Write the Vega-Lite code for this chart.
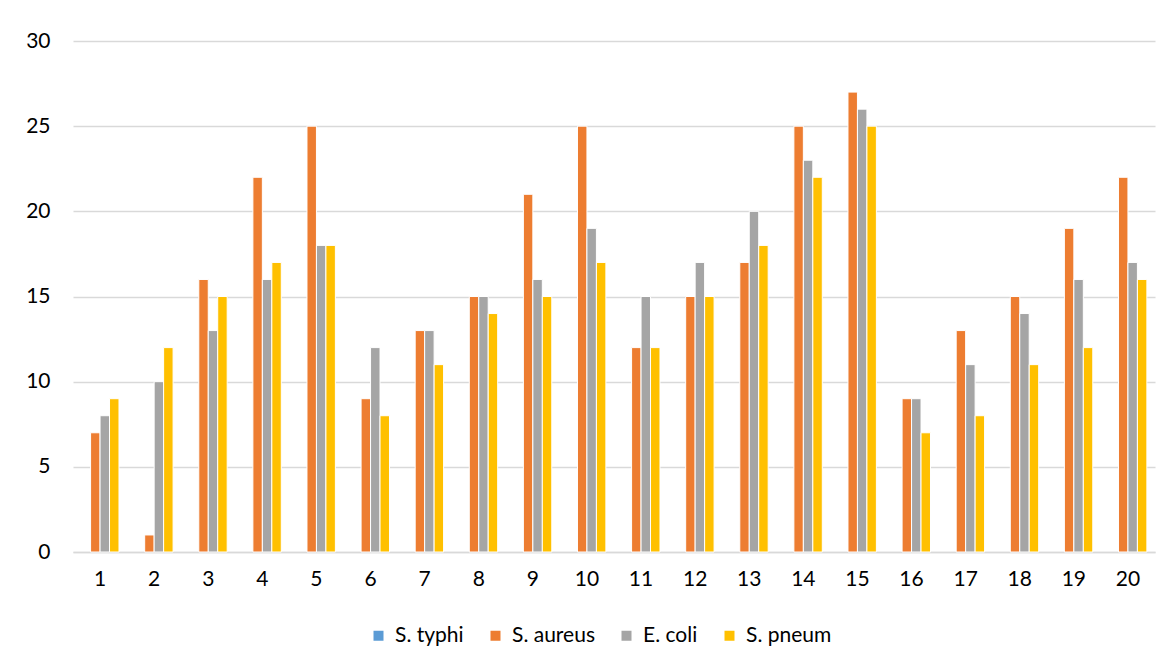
{
  "$schema": "https://vega.github.io/schema/vega-lite/v6.json",
  "autosize": "none",
  "width": 1082,
  "height": 511,
  "padding": {"left": 73, "top": 41, "right": 16, "bottom": 115},
  "background": "white",
  "config": {"view": {"stroke": null}, "font": "Lato"},
  "data": {"values": [
    {"c":"1","s":"S. typhi","v":0},{"c":"1","s":"S. aureus","v":7},{"c":"1","s":"E. coli","v":8},{"c":"1","s":"S. pneum","v":9},
    {"c":"2","s":"S. typhi","v":0},{"c":"2","s":"S. aureus","v":1},{"c":"2","s":"E. coli","v":10},{"c":"2","s":"S. pneum","v":12},
    {"c":"3","s":"S. typhi","v":0},{"c":"3","s":"S. aureus","v":16},{"c":"3","s":"E. coli","v":13},{"c":"3","s":"S. pneum","v":15},
    {"c":"4","s":"S. typhi","v":0},{"c":"4","s":"S. aureus","v":22},{"c":"4","s":"E. coli","v":16},{"c":"4","s":"S. pneum","v":17},
    {"c":"5","s":"S. typhi","v":0},{"c":"5","s":"S. aureus","v":25},{"c":"5","s":"E. coli","v":18},{"c":"5","s":"S. pneum","v":18},
    {"c":"6","s":"S. typhi","v":0},{"c":"6","s":"S. aureus","v":9},{"c":"6","s":"E. coli","v":12},{"c":"6","s":"S. pneum","v":8},
    {"c":"7","s":"S. typhi","v":0},{"c":"7","s":"S. aureus","v":13},{"c":"7","s":"E. coli","v":13},{"c":"7","s":"S. pneum","v":11},
    {"c":"8","s":"S. typhi","v":0},{"c":"8","s":"S. aureus","v":15},{"c":"8","s":"E. coli","v":15},{"c":"8","s":"S. pneum","v":14},
    {"c":"9","s":"S. typhi","v":0},{"c":"9","s":"S. aureus","v":21},{"c":"9","s":"E. coli","v":16},{"c":"9","s":"S. pneum","v":15},
    {"c":"10","s":"S. typhi","v":0},{"c":"10","s":"S. aureus","v":25},{"c":"10","s":"E. coli","v":19},{"c":"10","s":"S. pneum","v":17},
    {"c":"11","s":"S. typhi","v":0},{"c":"11","s":"S. aureus","v":12},{"c":"11","s":"E. coli","v":15},{"c":"11","s":"S. pneum","v":12},
    {"c":"12","s":"S. typhi","v":0},{"c":"12","s":"S. aureus","v":15},{"c":"12","s":"E. coli","v":17},{"c":"12","s":"S. pneum","v":15},
    {"c":"13","s":"S. typhi","v":0},{"c":"13","s":"S. aureus","v":17},{"c":"13","s":"E. coli","v":20},{"c":"13","s":"S. pneum","v":18},
    {"c":"14","s":"S. typhi","v":0},{"c":"14","s":"S. aureus","v":25},{"c":"14","s":"E. coli","v":23},{"c":"14","s":"S. pneum","v":22},
    {"c":"15","s":"S. typhi","v":0},{"c":"15","s":"S. aureus","v":27},{"c":"15","s":"E. coli","v":26},{"c":"15","s":"S. pneum","v":25},
    {"c":"16","s":"S. typhi","v":0},{"c":"16","s":"S. aureus","v":9},{"c":"16","s":"E. coli","v":9},{"c":"16","s":"S. pneum","v":7},
    {"c":"17","s":"S. typhi","v":0},{"c":"17","s":"S. aureus","v":13},{"c":"17","s":"E. coli","v":11},{"c":"17","s":"S. pneum","v":8},
    {"c":"18","s":"S. typhi","v":0},{"c":"18","s":"S. aureus","v":15},{"c":"18","s":"E. coli","v":14},{"c":"18","s":"S. pneum","v":11},
    {"c":"19","s":"S. typhi","v":0},{"c":"19","s":"S. aureus","v":19},{"c":"19","s":"E. coli","v":16},{"c":"19","s":"S. pneum","v":12},
    {"c":"20","s":"S. typhi","v":0},{"c":"20","s":"S. aureus","v":22},{"c":"20","s":"E. coli","v":17},{"c":"20","s":"S. pneum","v":16}
  ]},
  "mark": {"type": "bar", "stroke": "white", "strokeWidth": 1},
  "encoding": {
    "x": {"field": "c", "type": "ordinal", "sort": null,
      "scale": {"paddingInner": 0.3, "paddingOuter": 0.15},
      "axis": {"title": null, "labelAngle": 0, "labelFontSize": 21, "labelColor": "#000000", "labelPadding": 16, "ticks": false, "domainColor": "#D9D9D9", "domainWidth": 1.5, "labelFont": "Lato"}},
    "xOffset": {"field": "s", "type": "nominal", "sort": ["S. typhi","S. aureus","E. coli","S. pneum"], "scale": {"paddingInner": 0}},
    "y": {"field": "v", "type": "quantitative",
      "scale": {"domain": [0, 30], "nice": false},
      "axis": {"title": null, "values": [0,5,10,15,20,25,30], "labelFontSize": 21, "labelColor": "#000000", "labelPadding": 23, "ticks": false, "domain": false, "gridColor": "#D9D9D9", "gridWidth": 1.5, "labelFont": "Lato"}},
    "strokeOpacity": {"condition": {"test": "datum.v == 0", "value": 0}, "value": 1},
    "color": {"field": "s", "type": "nominal",
      "scale": {"domain": ["S. typhi","S. aureus","E. coli","S. pneum"], "range": ["#5B9BD5","#ED7D31","#A5A5A5","#FFC000"]},
      "legend": {"title": null, "orient": "none", "direction": "horizontal", "legendX": 295, "legendY": 584, "symbolType": "square", "symbolSize": 100, "symbolStrokeWidth": 0, "labelFontSize": 21, "labelColor": "#000000", "columnPadding": 21, "labelOffset": 6, "labelFont": "Lato"}}
  }
}
